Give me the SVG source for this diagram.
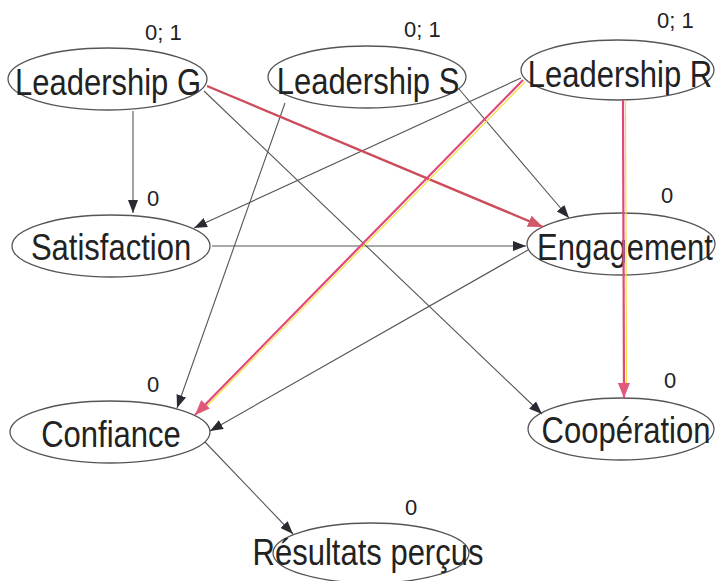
<svg xmlns="http://www.w3.org/2000/svg" width="716" height="581" viewBox="0 0 716 581">
<defs>
<style>
.node ellipse{fill:none;stroke:#555;stroke-width:1.3}
.lbl{font-family:"Liberation Sans",Arial,sans-serif;font-size:31px;fill:#222;text-anchor:middle}
.num{font-family:"Liberation Sans",Arial,sans-serif;font-size:22px;fill:#222}
.e{fill:none;stroke:#555;stroke-width:1.1}
.r{fill:none;stroke:#e0487a;stroke-width:2.2}
.rg{fill:none;stroke:#cc4c5a;stroke-width:2.4}
.y{fill:none;stroke:#f0e040;stroke-width:1.2}
</style>
<marker id="a" markerUnits="userSpaceOnUse" markerWidth="13" markerHeight="10" refX="13" refY="5" orient="auto"><path d="M0,0 L13,5 L0,10 z" fill="#2a2a33"/></marker>
<marker id="ar" markerUnits="userSpaceOnUse" markerWidth="15" markerHeight="12" refX="15" refY="6" orient="auto"><path d="M0,0 L15,6 L0,12 z" fill="#e0587a"/></marker>
<marker id="ag" markerUnits="userSpaceOnUse" markerWidth="15" markerHeight="12" refX="15" refY="6" orient="auto"><path d="M0,0 L15,6 L0,12 z" fill="#d05a66"/></marker>
</defs>
<rect width="716" height="581" fill="#fff"/>
<g id="leadershipG" class="node"><ellipse cx="107.5" cy="79" rx="99.5" ry="31"/><text class="lbl" transform="translate(108,95) scale(1,1.2)">Leadership G</text><text class="num" x="145" y="40">0; 1</text></g>
<g id="leadershipS" class="node"><ellipse cx="367" cy="77" rx="99" ry="31"/><text class="lbl" transform="translate(368,94) scale(1,1.2)">Leadership S</text><text class="num" x="404" y="37">0; 1</text></g>
<g id="leadershipR" class="node"><ellipse cx="617.5" cy="70" rx="96.5" ry="30"/><text class="lbl" transform="translate(620,87) scale(1,1.2)">Leadership R</text><text class="num" x="657" y="28">0; 1</text></g>
<g id="satisfaction" class="node"><ellipse cx="111" cy="246" rx="99" ry="31"/><text class="lbl" transform="translate(111,260) scale(1,1.2)">Satisfaction</text><text class="num" x="147" y="206">0</text></g>
<g id="engagement" class="node"><ellipse cx="621" cy="244" rx="94" ry="31"/><text class="lbl" transform="translate(625,260) scale(1,1.2)">Engagement</text><text class="num" x="661" y="203">0</text></g>
<g id="confiance" class="node"><ellipse cx="110" cy="432" rx="100" ry="31"/><text class="lbl" transform="translate(111,447) scale(1,1.2)">Confiance</text><text class="num" x="147" y="392">0</text></g>
<g id="cooperation" class="node"><ellipse cx="621" cy="429" rx="93" ry="31"/><text class="lbl" transform="translate(626,443) scale(1,1.2)">Coopération</text><text class="num" x="664" y="388">0</text></g>
<g id="resultats" class="node"><ellipse cx="371" cy="553" rx="98" ry="30"/><text class="lbl" transform="translate(368,565) scale(1,1.2)">Résultats perçus</text><text class="num" x="405" y="515">0</text></g>
<g id="connectors">
<path class="e" d="M133,111 L133,213" marker-end="url(#a)"/>
<path class="e" d="M521,78 L194,228" marker-end="url(#a)"/>
<path class="e" d="M204,91 L542,414" marker-end="url(#a)"/>
<path class="e" d="M285,103 L177,408" marker-end="url(#a)"/>
<path class="e" d="M459,89 L569,218" marker-end="url(#a)"/>
<path class="e" d="M212,246 L526,246" marker-end="url(#a)"/>
<path class="e" d="M528,250 L210,431" marker-end="url(#a)"/>
<path class="e" d="M205,442 L293,534" marker-end="url(#a)"/>
<path class="rg" d="M207,86 L543,227" marker-end="url(#ag)"/>
<path class="y" d="M525,82 L200,413"/>
<path class="r" d="M523,80 L195,415" marker-end="url(#ar)"/>
<path class="y" d="M625.5,100 L626.5,390"/>
<path class="r" d="M623,100 L624,398" marker-end="url(#ar)"/>
</g>
</svg>
